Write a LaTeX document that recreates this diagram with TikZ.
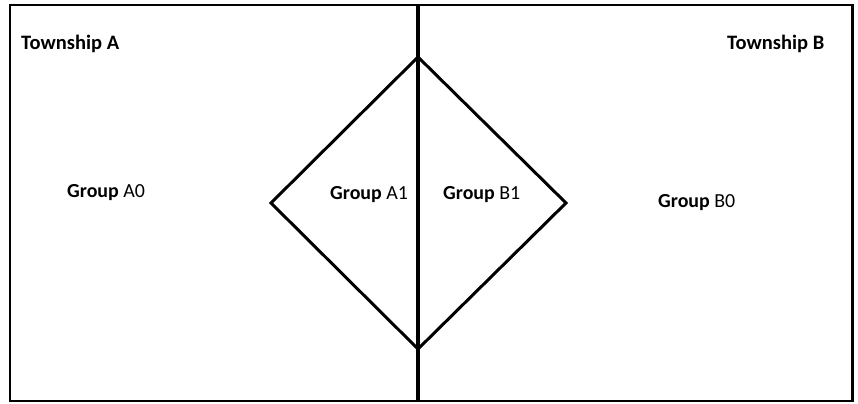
\documentclass[tikz,border=0pt]{standalone}
\usepackage{fontspec}
\setmainfont{Carlito}
\usetikzlibrary{positioning}

\begin{document}
\begin{tikzpicture}[x=0.03cm,y=-0.03cm,line cap=rect,line join=miter,
    every node/.style={inner sep=0pt,anchor=west,font=\fontsize{17.5}{20}\selectfont},
    grp/.style={font=\fontsize{17}{20}\selectfont}]
  \useasboundingbox (0,0) rectangle (858,404);
  % frame of the two townships
  \draw[line width=2.55pt] (10,5) rectangle (852,401);
  \coordinate (midT) at (418,5);
  \coordinate (midB) at (418,401);
  \draw[line width=3.4pt,line cap=butt] (midT) -- (midB);
  % shared group
  \coordinate (dT) at (418,57);
  \coordinate (dL) at (271,203);
  \coordinate (dR) at (566,203);
  \coordinate (dB) at (418,349);
  \draw[line width=2.55pt] (dT) -- (dR) -- (dB) -- (dL) -- cycle;
  \node (twpA) at (21,44) {\textbf{Township A}};
  \node (twpB) at (727,44) {\textbf{Township B}};
  \node[grp] (grpA0) at (67,193) {\textbf{Group} A0};
  \node[grp] (grpA1) at (330,195) {\textbf{Group} A1};
  \node[grp] (grpB1) at (443,195) {\textbf{Group} B1};
  \node[grp] (grpB0) at (658,203) {\textbf{Group} B0};
\end{tikzpicture}
\end{document}
